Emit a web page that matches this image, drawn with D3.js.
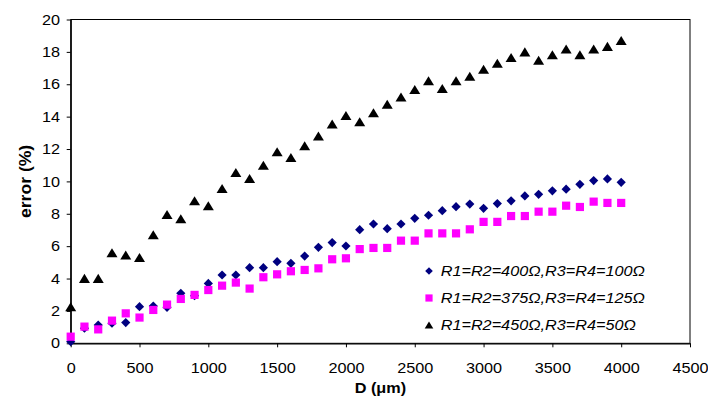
<!DOCTYPE html>
<html lang="en">
<head>
  <meta charset="UTF-8">
  <title>error vs D</title>
  <script src="https://cdn.jsdelivr.net/npm/d3@7"></script>
  <style type="text/css">
    body { margin: 0; background: white; }
    svg { display: block; }
    text { font-family: "Liberation Sans", Arial, sans-serif; fill: black; }
  </style>
</head>
<body>
<svg id="chart" width="708" height="399"></svg>
<script>

  // D (um) for every point
  const dValues = [0, 100, 200, 300, 400, 500, 600, 700, 800, 900, 1000,
    1100, 1200, 1300, 1400, 1500, 1600, 1700, 1800, 1900, 2000,
    2100, 2200, 2300, 2400, 2500, 2600, 2700, 2800, 2900, 3000,
    3100, 3200, 3300, 3400, 3500, 3600, 3700, 3800, 3900, 4000];

  // error (%) per series
  const err400 = [0.1, 0.93, 1.13, 1.24, 1.28, 2.26, 2.3, 2.22, 3.09, 2.94, 3.7,
    4.22, 4.22, 4.67, 4.67, 5.04, 4.94, 5.39, 5.93, 6.22, 6.01,
    7.02, 7.37, 7.08, 7.37, 7.72, 7.91, 8.19, 8.44, 8.6, 8.34,
    8.63, 8.8, 9.1, 9.2, 9.42, 9.52, 9.82, 10.05, 10.15, 9.94];
  const err375 = [0.41, 1.03, 0.86, 1.4, 1.85, 1.59, 2.06, 2.39, 2.74, 2.99, 3.29,
    3.56, 3.75, 3.38, 4.08, 4.26, 4.45, 4.53, 4.63, 5.19, 5.25,
    5.82, 5.89, 5.89, 6.34, 6.34, 6.79, 6.79, 6.79, 7.04, 7.5,
    7.5, 7.86, 7.86, 8.13, 8.13, 8.5, 8.42, 8.75, 8.67, 8.67];
  const err450 = [2.26, 4.01, 4.01, 5.6, 5.45, 5.3, 6.7, 7.95, 7.7, 8.8, 8.5,
    9.56, 10.55, 10.18, 11.0, 11.83, 11.48, 12.2, 12.81, 13.54, 14.07,
    13.68, 14.24, 14.77, 15.22, 15.68, 16.21, 15.74, 16.21, 16.5, 16.93,
    17.3, 17.65, 18.0, 17.48, 17.82, 18.18, 17.82, 18.18, 18.34, 18.7];

  const seriesNames = ["R1=R2=400\u03A9,R3=R4=100\u03A9",
                       "R1=R2=375\u03A9,R3=R4=125\u03A9",
                       "R1=R2=450\u03A9,R3=R4=50\u03A9"];
  const xTicks = [0, 500, 1000, 1500, 2000, 2500, 3000, 3500, 4000, 4500];
  const yTicks = [0, 2, 4, 6, 8, 10, 12, 14, 16, 18, 20];

  const W = 708, H = 399;
  const margin = {top: 19.5, right: 18, bottom: 55.7, left: 70.7};
  const stretch = 'scale(1.12,1)';

  const svg = d3.select('#chart');

  const x = d3.scaleLinear().domain([0, 4500]).range([margin.left, W - margin.right]);
  const y = d3.scaleLinear().domain([0, 20]).range([H - margin.bottom, margin.top]);

  // marker shapes
  function diamond(r) { return `M0,${-r}L${r},0L0,${r}L${-r},0Z`; }
  function square(r) { return `M${-r},${-r}H${r}V${r}H${-r}Z`; }
  function triangle(r) { return `M0,${-r*0.82}L${r},${r*0.82}L${-r},${r*0.82}Z`; }

  const series = [
    {name: seriesNames[0], values: err400, color: '#000080', shape: diamond, size: 4.6, legSize: 3.8},
    {name: seriesNames[1], values: err375, color: '#ff00ff', shape: square, size: 4.1, legSize: 3.6},
    {name: seriesNames[2], values: err450, color: '#000000', shape: triangle, size: 5.5, legSize: 4.3}
  ];

  // frame (top + right)
  svg.append('rect')
    .attr('x', x(0)).attr('y', y(20))
    .attr('width', x(4500) - x(0)).attr('height', y(0) - y(20))
    .attr('fill', 'none').attr('stroke', '#000').attr('stroke-width', 1);

  // axes
  const fmt = d3.format('d');
  const xAxis = svg.append('g')
    .attr('transform', `translate(0,${y(0)})`)
    .call(d3.axisBottom(x).tickValues(xTicks).tickFormat(fmt)
      .tickSize(4).tickPadding(15.2).tickSizeOuter(0));
  const yAxis = svg.append('g')
    .attr('transform', `translate(${x(0)},0)`)
    .call(d3.axisLeft(y).tickValues(yTicks).tickFormat(fmt)
      .tickSize(4).tickPadding(5.5).tickSizeOuter(0));

  [xAxis, yAxis].forEach(g => {
    g.select('.domain').attr('stroke', '#000').attr('stroke-width', 1.3);
    g.selectAll('.tick line').attr('stroke', '#000');
    g.selectAll('.tick text')
      .attr('font-family', '"Liberation Sans", Arial, sans-serif')
      .attr('font-size', 14.5).attr('fill', '#000')
      .attr('transform', stretch);
  });

  // axis titles
  svg.append('text')
    .attr('transform', `translate(${(x(0) + x(4500)) / 2},393) ${stretch}`)
    .attr('text-anchor', 'middle')
    .attr('font-size', 14.5).attr('font-weight', 'bold')
    .text('D (\u03BCm)');

  svg.append('text')
    .attr('transform', `translate(25,${(y(0) + y(20)) / 2}) rotate(-90) scale(1.1,1)`)
    .attr('text-anchor', 'middle').attr('dy', '0.35em')
    .attr('font-size', 16).attr('font-weight', 'bold')
    .text('error (%)');

  // points
  series.forEach(s => {
    svg.append('g').selectAll('path')
      .data(s.values)
      .join('path')
      .attr('transform', (v, i) => `translate(${x(dValues[i])},${y(v)})`)
      .attr('d', s.shape(s.size))
      .attr('fill', s.color);
  });

  // legend
  const legend = svg.append('g');
  const legRows = [271, 298, 325];
  series.forEach((s, i) => {
    legend.append('path')
      .attr('transform', `translate(429,${legRows[i]})`)
      .attr('d', s.shape(s.legSize))
      .attr('fill', s.color);
    legend.append('text')
      .attr('transform', `translate(440.7,${legRows[i]}) ${stretch}`)
      .attr('dy', '0.36em')
      .attr('font-size', 14.5).attr('font-style', 'italic')
      .text(s.name);
  });

</script>
</body>
</html>
